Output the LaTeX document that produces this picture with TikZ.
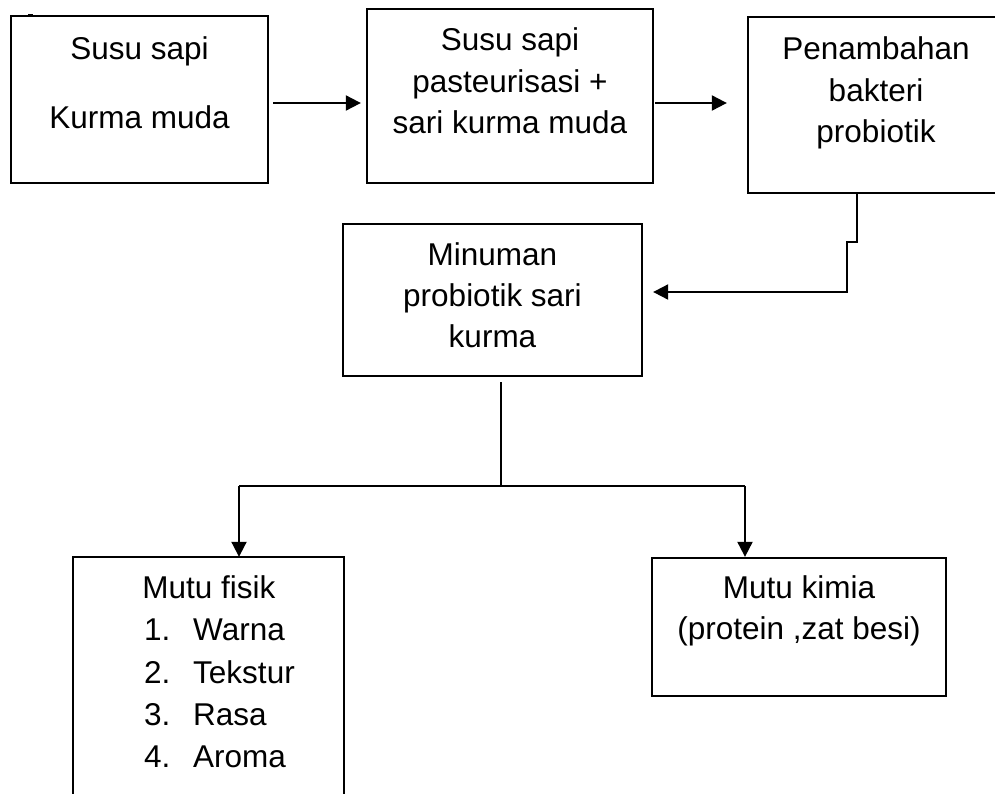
\documentclass[tikz,border=0pt]{standalone}
\usepackage{fontspec}
\setmainfont{Liberation Sans}
\usetikzlibrary{arrows.meta}
\begin{document}
\begin{tikzpicture}[x=1pt,y=-1pt,
  box/.style={draw=black,line width=2.3pt,inner sep=0pt},
  openbox/.style={inner sep=0pt},
  txt/.style={anchor=base,inner sep=0pt,font=\fontsize{31.5}{38}\selectfont},
  txtl/.style={anchor=base west,inner sep=0pt,font=\fontsize{31.5}{38}\selectfont},
  conn/.style={line width=2pt,-{Triangle[length=15pt,width=15pt]}},
  line/.style={line width=2pt}]
\useasboundingbox (0,0) rectangle (995,793);
\clip (0,0) rectangle (995,793);
\fill[white] (0,0) rectangle (995,793);
% boxes
\node[box,minimum width=257pt,minimum height=167pt] (b1) at (139.5,99.5) {};
\node[box,minimum width=286pt,minimum height=174pt] (b2) at (510,96) {};
\node[box,minimum width=256pt,minimum height=176pt] (b3) at (876,105) {};
\node[box,minimum width=299pt,minimum height=152pt] (b4) at (492.5,300) {};
\node[openbox,minimum width=271pt,minimum height=250pt] (b5) at (208.5,682) {};
\draw[line width=2.3pt] (b5.south west) -- (b5.north west) -- (b5.north east) -- (b5.south east);
\node[box,minimum width=294pt,minimum height=138pt] (b6) at (799,627) {};
% small mark
\fill (28,13.5) rectangle (33,15.5);
% texts
\node[txt] (t1a) at (139.5,59) {Susu sapi};
\node[txt] (t1b) at (139.5,128) {Kurma muda};
\node[txt] (t2a) at (510,50) {Susu sapi};
\node[txt] (t2b) at (510,92) {pasteurisasi +};
\node[txt] (t2c) at (510,133) {sari kurma muda};
\node[txt] (t3a) at (876,59) {Penambahan};
\node[txt] (t3b) at (876,101) {bakteri};
\node[txt] (t3c) at (876,142) {probiotik};
\node[txt] (t4a) at (492.5,265) {Minuman};
\node[txt] (t4b) at (492.5,306) {probiotik sari};
\node[txt] (t4c) at (492.5,347) {kurma};
\node[txt] (t5a) at (209,598) {Mutu fisik};
\node[txtl] (n1) at (144,640) {1.};
\node[txtl] (w1) at (193,640) {Warna};
\node[txtl] (n2) at (144,683) {2.};
\node[txtl] (w2) at (193,683) {Tekstur};
\node[txtl] (n3) at (144,725) {3.};
\node[txtl] (w3) at (193,725) {Rasa};
\node[txtl] (n4) at (144,767) {4.};
\node[txtl] (w4) at (193,767) {Aroma};
\node[txt] (t6a) at (799,598) {Mutu kimia};
\node[txt] (t6b) at (799,639) {(protein ,zat besi)};
% connectors
\coordinate (a1) at (273,103);
\coordinate (a2) at (655,103);
\draw[conn,shorten >=5pt] (a1) -- (a1 -| b2.west);
\draw[conn,shorten >=20pt] (a2) -- (a2 -| b3.west);
\coordinate (s1) at (857,242);
\coordinate (s2) at (847,242);
\coordinate (s3) at (847,292);
\draw[conn,shorten >=10pt] (b3.south -| s1) -- (s1) -- (s2) -- (s3) -- (s3 -| b4.east);
\coordinate (d0) at (501,382);
\coordinate (dm) at (501,486);
\coordinate (dl) at (239,486);
\coordinate (dr) at (745,486);
\draw[line width=1.4pt] (d0) -- (dm);
\draw[line] (dl) -- (dr);
\draw[conn] (dl) -- (b5.north -| dl);
\draw[conn] (dr) -- (b6.north -| dr);
\end{tikzpicture}
\end{document}
